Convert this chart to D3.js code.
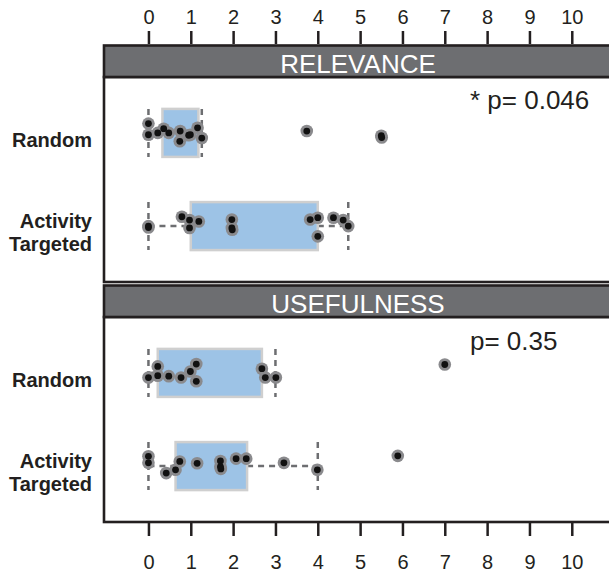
<!doctype html>
<html>
<head>
  <meta charset="utf8"/>
  <style>
    body { margin: 0; background: #fff; }
    text { font-family: 'Liberation Sans', Arial, Helvetica, sans-serif; }
  </style>
</head>
<body>
  <svg width="609" height="573"></svg>
  <script src="https://d3js.org/d3.v7.min.js"></script>
  <script>
    // ---- data ----
    var facets = ['RELEVANCE', 'USEFULNESS'];
    var categories = ['Random', 'Activity Targeted'];
    var pLabels = ['* p= 0.046', 'p= 0.35'];
    var xTicks = [0, 1, 2, 3, 4, 5, 6, 7, 8, 9, 10];

    // box stats per category: [whisker low, q1, q3, whisker high]
    var relevanceBoxes = [[0, 0.33, 1.18, 1.26], [0, 1.0, 4.0, 4.72]];
    var usefulnessBoxes = [[0, 0.22, 2.68, 3.0], [0, 0.64, 2.33, 4.0]];

    // points: [score, vertical jitter in category units]
    var relevanceRandom = [[0, -0.10], [0, 0.02], [0.22, 0], [0.36, -0.045], [0.48, 0],
      [0.75, -0.02], [0.74, 0.09], [0.95, 0.025], [0.99, 0.02], [1.16, -0.055],
      [1.26, 0.055], [3.74, -0.02], [5.5, 0.03], [5.51, 0.05]];
    var relevanceTargeted = [[0, 0], [0, 0.015], [0.79, -0.1], [0.97, -0.065], [1.19, -0.05],
      [0.97, 0.02], [1.97, -0.07], [1.97, 0.02], [1.98, 0.04], [3.82, -0.07], [4.0, -0.09],
      [4.0, 0.11], [4.37, -0.09], [4.6, -0.065], [4.72, 0]];
    var usefulnessRandom = [[0, 0.05], [0.22, -0.07], [0.22, 0.03], [0.48, 0.035], [0.77, 0.05],
      [0.99, -0.015], [1.13, -0.095], [1.13, 0.09], [2.68, -0.045], [2.76, 0.05],
      [3.01, 0.05], [7.0, -0.09]];
    var usefulnessTargeted = [[0, -0.105], [0, -0.035], [0.42, 0.075], [0.64, 0.04], [0.74, -0.05],
      [1.15, -0.03], [1.7, -0.055], [1.7, 0.005], [1.71, 0.03], [2.07, -0.08], [2.31, -0.08],
      [3.2, -0.035], [3.99, 0.04], [5.89, -0.11]];

    var panels = [
      {title: facets[0], p: pLabels[0], boxes: relevanceBoxes, points: [relevanceRandom, relevanceTargeted]},
      {title: facets[1], p: pLabels[1], boxes: usefulnessBoxes, points: [usefulnessRandom, usefulnessTargeted]}
    ];

    // ---- layout ----
    var svg = d3.select('svg');
    var left = 104, right = 612;
    var stripH = 33, bodyH = 205;
    var panelTop = [44, 284];
    var ink = '#231f20';

    var x = d3.scaleLinear().domain([-1.05, 10.95]).range([left, right]);
    var y = d3.scalePoint().domain(categories).range([0, bodyH]).padding(0.6);
    var step = y.step();
    var boxHalf = 24;

    panels.forEach(function(pn, i) {
      var top = panelTop[i];
      var g = svg.append('g').attr('transform', 'translate(0,' + (top + stripH) + ')');

      // panel body
      g.append('rect')
        .attr('x', left).attr('y', 0)
        .attr('width', right - left).attr('height', bodyH)
        .attr('fill', '#fff');

      pn.boxes.forEach(function(b, j) {
        var cy = y(categories[j]);
        var whisk = g.append('g')
          .attr('stroke', '#6d6e71').attr('stroke-width', 2.5)
          .attr('stroke-dasharray', '6,5').attr('fill', 'none');
        whisk.append('line')
          .attr('x1', x(b[0])).attr('x2', x(b[1])).attr('y1', cy).attr('y2', cy);
        whisk.append('line')
          .attr('x1', x(b[2])).attr('x2', x(b[3])).attr('y1', cy).attr('y2', cy);
        [b[0], b[3]].forEach(function(v) {
          whisk.append('line')
            .attr('x1', x(v)).attr('x2', x(v))
            .attr('y1', cy - boxHalf).attr('y2', cy + boxHalf);
        });
        g.append('rect')
          .attr('x', x(b[1])).attr('y', cy - boxHalf)
          .attr('width', x(b[2]) - x(b[1])).attr('height', boxHalf * 2)
          .attr('fill', '#9dc3e6')
          .attr('stroke', '#cfcfcf').attr('stroke-width', 2.5);
      });

      pn.points.forEach(function(pts, j) {
        var cy = y(categories[j]);
        var pg = g.append('g');
        pg.selectAll('circle.halo').data(pts).enter().append('circle')
          .attr('class', 'halo')
          .attr('cx', function(d) { return x(d[0]); })
          .attr('cy', function(d) { return cy + d[1] * step; })
          .attr('r', 6.3).attr('fill', '#8a8a8d');
        pg.selectAll('circle.dot').data(pts).enter().append('circle')
          .attr('class', 'dot')
          .attr('cx', function(d) { return x(d[0]); })
          .attr('cy', function(d) { return cy + d[1] * step; })
          .attr('r', 3.4).attr('fill', '#111');
      });

      g.append('text')
        .attr('x', 470).attr('y', i === 0 ? 32 : 33)
        .attr('font-size', 26).attr('fill', ink)
        .text(pn.p);

      // border
      g.append('rect')
        .attr('x', left).attr('y', 0)
        .attr('width', right - left).attr('height', bodyH)
        .attr('fill', 'none').attr('stroke', ink).attr('stroke-width', 2.6);

      // strip
      svg.append('rect')
        .attr('x', left).attr('y', top + 1.5)
        .attr('width', right - left).attr('height', stripH - 1.5)
        .attr('fill', '#6d6e71').attr('stroke', ink).attr('stroke-width', 2.6);
      svg.append('text')
        .attr('x', (left + right) / 2).attr('y', top + 28.5)
        .attr('text-anchor', 'middle').attr('font-size', 26).attr('fill', '#fff')
        .text(pn.title);

      // category labels
      var lab = svg.append('g')
        .attr('font-size', 20).attr('font-weight', 'bold').attr('fill', ink)
        .attr('text-anchor', 'end');
      lab.append('text')
        .attr('x', 92).attr('y', top + stripH + y(categories[0]) + 14.5)
        .text(categories[0]);
      var words = categories[1].split(' ');
      words.forEach(function(w, k) {
        lab.append('text')
          .attr('x', 92).attr('y', top + stripH + y(categories[1]) + 1.5 + k * 23.5)
          .text(w);
      });
    });

    // axes, top and bottom
    var axisTop = d3.axisTop(x).tickValues(xTicks).tickSize(13).tickPadding(7);
    var axisBottom = d3.axisBottom(x).tickValues(xTicks).tickSize(13).tickPadding(19);
    var gTop = svg.append('g').attr('transform', 'translate(0,44)').call(axisTop);
    var gBot = svg.append('g').attr('transform', 'translate(0,523)').call(axisBottom);
    [gTop, gBot].forEach(function(a) {
      a.select('.domain').remove();
      a.selectAll('line').attr('stroke', ink).attr('stroke-width', 2.5);
      a.selectAll('text')
        .attr('font-size', 20).attr('fill', ink)
        .style('font-family', "'Liberation Sans', Arial, sans-serif");
    });
  </script>
</body>
</html>
